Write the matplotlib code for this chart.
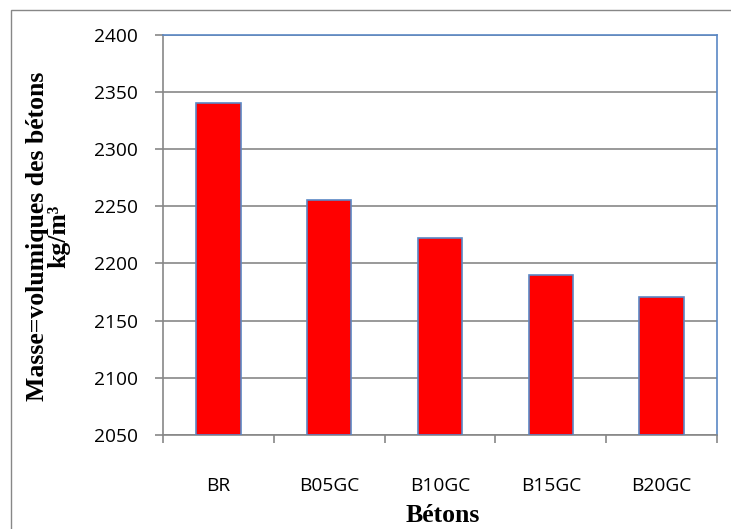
import matplotlib.pyplot as plt
from matplotlib.patches import Rectangle

betons = ['BR', 'B05GC', 'B10GC', 'B15GC', 'B20GC']
masse = [2340, 2255, 2222, 2190, 2171]
y_ticks = [2050, 2100, 2150, 2200, 2250, 2300, 2350, 2400]

grey = '#878787'
blue = '#5a87c5'

fig = plt.figure(figsize=(7.31, 5.29), dpi=100)
ax = fig.add_axes([163 / 731, 1 - 435 / 529, (717 - 163) / 731, (435 - 34.5) / 529])

# thin grey frame around the whole chart (open on the right and bottom)
fig.patches.append(Rectangle((11 / 731, -0.1), 1.2, 1 - 10 / 529 + 0.1,
                             transform=fig.transFigure, fill=False,
                             edgecolor=grey, linewidth=1.0))

x = range(len(betons))
ax.bar(x, [m - 2050 for m in masse], bottom=2050, width=0.4,
       color='#ff0000', edgecolor=blue, linewidth=1.2, zorder=3)

ax.set_xlim(-0.5, len(betons) - 0.5)
ax.set_ylim(2050, 2400)
ax.set_yticks(y_ticks)
ax.set_xticks(x)
ax.set_xticklabels(betons)
ax.set_xticks([i - 0.5 for i in range(len(betons) + 1)], minor=True)
ax.yaxis.grid(True, color=grey, linewidth=1.2, zorder=1)
ax.set_axisbelow(True)

for lab in ax.get_xticklabels() + ax.get_yticklabels():
    lab.set_fontfamily('Open Sans')
    lab.set_fontsize(13.8)

ax.tick_params(axis='x', which='major', length=0, pad=30)
ax.tick_params(axis='x', which='minor', length=6, width=1.2, color=grey)
ax.tick_params(axis='y', length=6, width=1.2, color=grey, pad=12)

for side in ['left', 'bottom']:
    ax.spines[side].set_color(grey)
    ax.spines[side].set_linewidth(1.2)
for side in ['top', 'right']:
    ax.spines[side].set_color(blue)
    ax.spines[side].set_linewidth(1.2)

label_font = {'family': 'Liberation Serif', 'weight': 'bold', 'size': 18.5}
fig.text(443 / 731, 1 - 516 / 529, 'Bétons', ha='center', va='center', **label_font)
fig.text(48 / 731, 1 - 236 / 529, 'Masse=volumiques des bétons\nkg/m³',
         ha='center', va='center', rotation=90, linespacing=0.9, **label_font)

fig.savefig('out.png', dpi=100)
